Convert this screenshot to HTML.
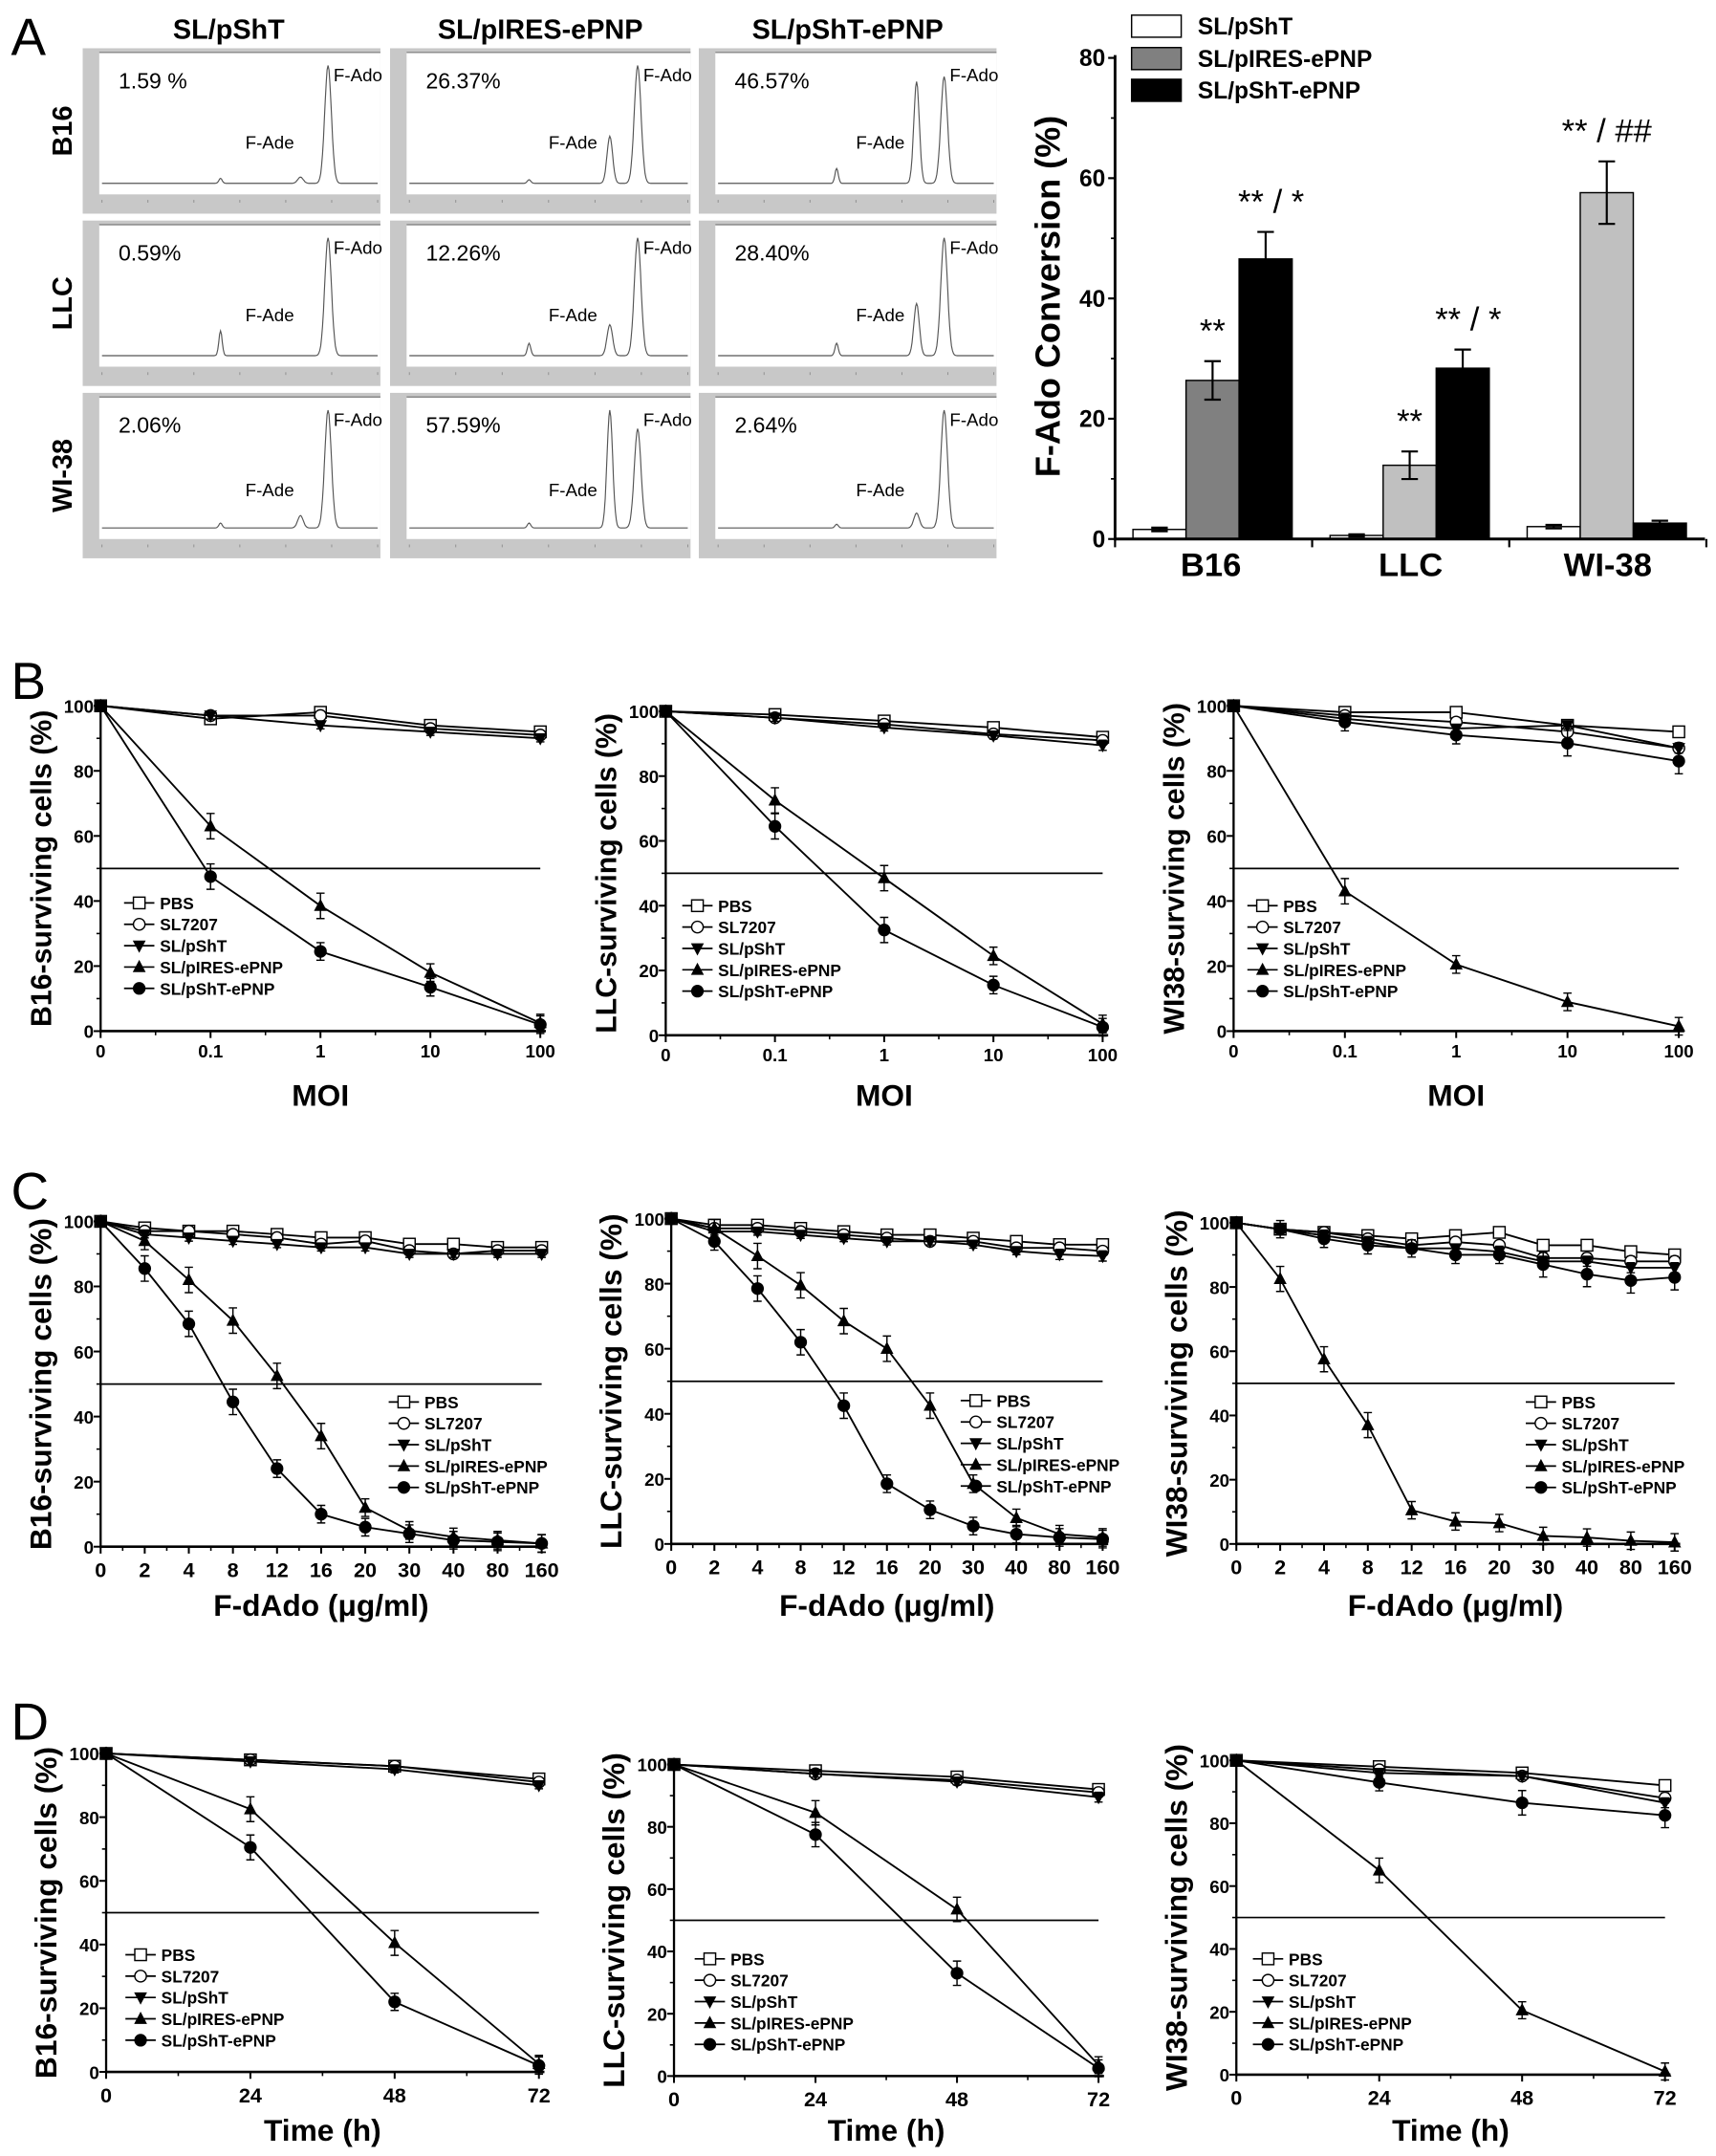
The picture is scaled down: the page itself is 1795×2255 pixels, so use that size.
<!DOCTYPE html>
<html><head><meta charset="utf-8"><style>
html,body{margin:0;padding:0;background:#fff}
svg{display:block;font-family:"Liberation Sans",Arial,sans-serif}
</style></head><body>
<svg id="fig" width="1795" height="2255" viewBox="0 0 1245 1564" preserveAspectRatio="none" xmlns="http://www.w3.org/2000/svg">
<g id="root"></g>
</svg>
<script>
// ---------- Panel A bar data ----------
const barCats = ['B16','LLC','WI-38'];
const barSeries = ['SL/pShT','SL/pIRES-ePNP','SL/pShT-ePNP'];
const barPShT = [1.59, 0.59, 2.06];
const barPIRES = [26.37, 12.26, 57.59];
const barPShTePNP = [46.57, 28.40, 2.64];
const errPShT = [0.3, 0.2, 0.3];
const errPIRES = [3.2, 2.3, 5.2];
const errPShTePNP = [4.5, 3.1, 0.4];
const barYTicks = [0,20,40,60,80];
const barAnnot = [['**','** / *'],['**','** / *'],['** / ##','']];

// ---------- Chromatogram peak data [retention fraction, relative height] ----------
const chromCols = ['SL/pShT','SL/pIRES-ePNP','SL/pShT-ePNP'];
const chromRows = ['B16','LLC','WI-38'];
const chromPct = [['1.59 %','26.37%','46.57%'],['0.59%','12.26%','28.40%'],['2.06%','57.59%','2.64%']];
const chromPeaks = [
 [[[0.43,0.04],[0.72,0.05],[0.82,0.95]], [[0.43,0.03],[0.72,0.38],[0.82,0.95]], [[0.43,0.12],[0.72,0.82],[0.82,0.86]]],
 [[[0.43,0.2],[0.82,0.95]], [[0.43,0.1],[0.72,0.25],[0.82,0.95]], [[0.43,0.1],[0.72,0.42],[0.82,0.95]]],
 [[[0.43,0.04],[0.72,0.1],[0.82,0.95]], [[0.43,0.04],[0.72,0.95],[0.82,0.8]], [[0.43,0.03],[0.72,0.12],[0.82,0.95]]]
];

// ---------- Survival line data ----------
const seriesNames = ['PBS','SL7207','SL/pShT','SL/pIRES-ePNP','SL/pShT-ePNP'];
const yTicks = [0,20,40,60,80,100];
const moiLabels = ['0','0.1','1','10','100'];
const doseLabels = ['0','2','4','8','12','16','20','30','40','80','160'];
const timeValues = [0,24,48,72];
const timeLabels = ['0','24','48','72'];

const B_B16 = [[100,96,98,94,92],[100,97,97,93,91],[100,97,94,92,90],[100,63,38.5,18,2.5],[100,47.5,24.5,13.5,2]];
const B_LLC = [[100,99,97,95,92],[100,98,96,93,91],[100,98,95,92.5,89.5],[100,72.5,48.5,24.5,3.5],[100,64.5,32.5,15.5,2.5]];
const B_WI = [[100,98,98,94,92],[100,97,95,92,87],[100,96,93,94,87],[100,43,20.5,9,1.5],[100,95,91,88.5,83]];

const C_B16 = [[100,98,97,97,96,95,95,93,93,92,92],[100,97,97,96,95,93,94,91,90,91,91],[100,96,95,94,93,92,92,90,90,90,90],[100,94,82,69.5,52.5,34,12,5,3,2,1],[100,85.5,68.5,44.5,24,10,6,4,2,1.5,1]];
const C_LLC = [[100,98,98,97,96,95,95,94,93,92,92],[100,97,97,96,95,94,93,93,91,91,90],[100,96,96,95,94,93,93,92,90,89,88.5],[100,97,88.5,79.5,68.5,60,42.5,18.5,8,3,2],[100,93,78.5,62,42.5,18.5,10.5,5.5,3,2,1.5]];
const C_WI = [[100,98,97,96,95,96,97,93,93,91,90],[100,98,97,95,93,94,93,89,89,88,88],[100,98,96,94,92,92,91,88,88,86,86],[100,82.5,57.5,37,10.5,7,6.5,2.5,2,1,0.5],[100,98,95,93,92,90,90,87,84,82,83]];

const D_B16 = [[100,98,96,92],[100,98,96,91],[100,97.5,95,90],[100,82.5,40.5,2.5],[100,70.5,22,2]];
const D_LLC = [[100,98,96,92],[100,97,95,91],[100,97,94.5,89.5],[100,84.5,53.5,3.5],[100,77.5,33,2.5]];
const D_WI = [[100,98,96,92],[100,97,95,88],[100,96,95,86.5],[100,65,20.5,1],[100,93,86.5,82.5]];

const errSmall = [1.2,1.2,1.2,3,3];

const NS='http://www.w3.org/2000/svg';
const root=document.getElementById('root');
function mk(tag,attrs,parent){const e=document.createElementNS(NS,tag);for(const k in attrs)e.setAttribute(k,attrs[k]);(parent||root).appendChild(e);return e;}
function txt(s,attrs,parent){const e=mk('text',attrs,parent);e.textContent=s;return e;}

// ---- panel letters ----
[['A',8,40],['B',8,507],['C',8,877],['D',8,1262]].forEach(p=>{
  const t=txt(p[0],{x:p[1],y:p[2],'font-size':38,'font-weight':'normal'});
  
  
});

// ---- chromatograms ----
const cX=[60,283,507], cW=[216,218,216], cY=[35,160,285], cH=120;
chromCols.forEach((c,i)=>{
  const t=txt(c,{x:cX[i]+cW[i]/2+(i==0?-2:0),y:28,'font-size':20,'font-weight':'bold','text-anchor':'middle'});
  
  
});
chromRows.forEach((r,j)=>{
  const t=txt(r,{x:0,y:0,'font-size':20,'font-weight':'bold','text-anchor':'middle',transform:`translate(52,${cY[j]+cH/2}) rotate(-90)`});
  
  
});
for(let j=0;j<3;j++)for(let i=0;i<3;i++){
  const g=mk('g',{});
  
  
  const x=cX[i],y=cY[j],w=cW[i];
  mk('rect',{x:x,y:y,width:w,height:cH,fill:'#c8c8c8'},g);
  mk('rect',{x:x+12,y:y+3,width:w-12,height:cH-17,fill:'#fff'},g);
  mk('line',{x1:x+12,y1:y+3,x2:x+w,y2:y+3,stroke:'#888','stroke-width':1},g);
  const px0=x+14,pw=w-16,base=y+cH-22,top=y+8;
  let d='';
  for(let k=0;k<=300;k++){
    const f=k/300;let v=0;
    chromPeaks[j][i].forEach(p=>{const s=p[0]>0.8?0.012:(p[0]>0.6?0.01:0.006);v+=p[1]*Math.exp(-((f-p[0])**2)/(2*s*s));});
    d+=(k?'L':'M')+(px0+f*pw).toFixed(1)+' '+(base-v*(base-top)).toFixed(1);
  }
  mk('path',{d:d,fill:'none',stroke:'#555','stroke-width':0.8},g);
  for(let k=0;k<7;k++) mk('line',{x1:x+14+k*(w-16)/6,y1:y+cH-10,x2:x+14+k*(w-16)/6,y2:y+cH-8,stroke:'#888','stroke-width':0.6},g);
  txt(chromPct[j][i],{x:x+26,y:y+29,'font-size':16},g);
  txt('F-Ado',{x:px0+0.84*pw,y:y+24,'font-size':13},g);
  txt('F-Ade',{x:px0+(i==0?0.52:0.5)*pw,y:y+(j==2?75:73),'font-size':13},g);
}

// ---- Bar chart ----
(function(){
  const ax0=809, ax1=1237, yb=391, yt=42, vmax=80;
  const Y=v=>yb-(v/vmax)*(yb-yt);
  const groupW=143, barW=38.5;
  const gx=i=>ax0+groupW*i+13;
  const g=mk('g',{});
  
  
  const vals=[barPShT,barPIRES,barPShTePNP], errs=[errPShT,errPIRES,errPShTePNP];
  const fills=[['#fff','#808080','#000'],['#fff','#c0c0c0','#000'],['#fff','#c0c0c0','#000']];
  for(let c=0;c<3;c++)for(let s=0;s<3;s++){
    const v=vals[s][c], x=gx(c)+s*barW;
    const r=mk('rect',{x:x,y:Y(v),width:barW,height:yb-Y(v),fill:fills[c][s],stroke:'#000','stroke-width':1},g);
    
    
    const e=errs[s][c], cx=x+barW/2;
    mk('line',{x1:cx,y1:Y(v+e),x2:cx,y2:Y(Math.max(0,v-e)),stroke:'#000','stroke-width':1.5},g);
    mk('line',{x1:cx-6,y1:Y(v+e),x2:cx+6,y2:Y(v+e),stroke:'#000','stroke-width':1.5},g);
    mk('line',{x1:cx-6,y1:Y(Math.max(0,v-e)),x2:cx+6,y2:Y(Math.max(0,v-e)),stroke:'#000','stroke-width':1.5},g);
  }
  [[0,1,barPIRES,errPIRES,0],[0,2,barPShTePNP,errPShTePNP,1],[1,1,barPIRES,errPIRES,0],[1,2,barPShTePNP,errPShTePNP,1],[2,1,barPIRES,errPIRES,0]].forEach(a=>{
    const c=a[0],s=a[1],v=a[2][c]+a[3][c];
    const t=txt(barAnnot[c][a[4]],{x:gx(c)+s*barW+barW/2+(a[4]?4:0),y:Y(v)-14,'font-size':24,'text-anchor':'middle'},g);
    
    
  });
  mk('line',{x1:ax0,y1:yt-2,x2:ax0,y2:yb+1,stroke:'#000','stroke-width':2},g);
  mk('line',{x1:ax0,y1:yb,x2:ax1,y2:yb,stroke:'#000','stroke-width':2},g);
  barYTicks.forEach(v=>{
    mk('line',{x1:ax0-5,y1:Y(v),x2:ax0,y2:Y(v),stroke:'#000','stroke-width':1.5},g);
    txt(String(v),{x:ax0-7,y:Y(v)+6,'font-size':17,'font-weight':'bold','text-anchor':'end'},g);
    if(v<80) mk('line',{x1:ax0-3,y1:Y(v+10),x2:ax0,y2:Y(v+10),stroke:'#000','stroke-width':1.2},g);
  });
  for(let i=0;i<=3;i++) mk('line',{x1:ax0+groupW*i,y1:yb,x2:ax0+groupW*i,y2:yb+6,stroke:'#000','stroke-width':1.5},g);
  barCats.forEach((c,i)=>{
    const t=txt(c,{x:ax0+groupW*i+groupW/2-(i==0?2:0),y:418,'font-size':24,'font-weight':'bold','text-anchor':'middle'},g);
    
    
  });
  const yt2=txt('F-Ado Conversion (%)',{x:0,y:0,'font-size':25,'font-weight':'bold','text-anchor':'middle',transform:'translate(769,215) rotate(-90)'},g);
  
  
  const lf=['#fff','#808080','#000'], ly=[11,34.5,57.5];
  barSeries.forEach((s,i)=>{
    const le=mk('g',{},g);
    
    
    mk('rect',{x:821,y:ly[i],width:36,height:16,fill:lf[i],stroke:'#000','stroke-width':1},le);
    txt(s,{x:869,y:ly[i]+14,'font-size':17,'font-weight':'bold'},le);
  });
})();

// ---- Line charts ----
function marker(g,k,x,y){
  const r=4.2;
  if(k==0) mk('rect',{x:x-r,y:y-r,width:2*r,height:2*r,fill:'#fff',stroke:'#000','stroke-width':1},g);
  else if(k==1) mk('circle',{cx:x,cy:y,r:r,fill:'#fff',stroke:'#000','stroke-width':1},g);
  else if(k==2) mk('path',{d:`M${x-r-0.5} ${y-r+0.5}L${x+r+0.5} ${y-r+0.5}L${x} ${y+r+1}Z`,fill:'#000'},g);
  else if(k==3) mk('path',{d:`M${x-r-0.5} ${y+r-0.5}L${x+r+0.5} ${y+r-0.5}L${x} ${y-r-1}Z`,fill:'#000'},g);
  else mk('circle',{cx:x,cy:y,r:r+0.4,fill:'#000'},g);
}
function lineChart(cfg){
  const g=mk('g',{});
  
  
  const n=cfg.labels.length;
  const X=cfg.xv?(v=>cfg.x0+(v/cfg.xmax)*(cfg.x1-cfg.x0)):(i=>cfg.x0+i*(cfg.x1-cfg.x0)/(n-1));
  const Y=v=>cfg.yb-(v/100)*(cfg.yb-cfg.yt);
  const xs=i=>cfg.xv?X(cfg.xv[i]):X(i);
  mk('line',{x1:cfg.x0,y1:Y(100)-2,x2:cfg.x0,y2:cfg.yb+1,stroke:'#000','stroke-width':1.6},g);
  mk('line',{x1:cfg.x0,y1:cfg.yb,x2:cfg.x1+4,y2:cfg.yb,stroke:'#000','stroke-width':1.8},g);
  yTicks.forEach(v=>{
    mk('line',{x1:cfg.x0-5,y1:Y(v),x2:cfg.x0,y2:Y(v),stroke:'#000','stroke-width':1.4},g);
    if(v<100) mk('line',{x1:cfg.x0-3,y1:Y(v+10),x2:cfg.x0,y2:Y(v+10),stroke:'#000','stroke-width':1.1},g);
    txt(String(v),{x:cfg.x0-5,y:Y(v)+5,'font-size':13,'font-weight':'bold','text-anchor':'end'},g);
  });
  cfg.labels.forEach((l,i)=>{
    const x=xs(i);
    mk('line',{x1:x,y1:cfg.yb,x2:x,y2:cfg.yb+5,stroke:'#000','stroke-width':1.4},g);
    if(i<n-1){const xm=(x+xs(i+1))/2;mk('line',{x1:xm,y1:cfg.yb,x2:xm,y2:cfg.yb+3,stroke:'#000','stroke-width':1.1},g);}
    txt(l,{x:x,y:cfg.yb+(cfg.big?22:19),'font-size':cfg.big?15:13,'font-weight':'bold','text-anchor':'middle'},g);
  });
  mk('line',{x1:cfg.x0,y1:Y(50),x2:cfg.x1,y2:Y(50),stroke:'#000','stroke-width':1.2},g);
  cfg.data.forEach((s,k)=>{
    let d='';s.forEach((v,i)=>{d+=(i?'L':'M')+xs(i).toFixed(1)+' '+Y(v).toFixed(1);});
    const p=mk('path',{d:d,fill:'none',stroke:'#000','stroke-width':1.3},g);
    
    
    s.forEach((v,i)=>{
      if(i>0){const e=errSmall[k]*(v>30&&v<90?1.3:0.9),x=xs(i);
        mk('path',{d:`M${x} ${Y(v+e)}V${Y(v-e)}M${x-3} ${Y(v+e)}H${x+3}M${x-3} ${Y(v-e)}H${x+3}`,stroke:'#000','stroke-width':1,fill:'none'},g);}
      marker(g,k,xs(i),Y(v));
    });
  });
  seriesNames.forEach((s,k)=>{
    const le=mk('g',{},g);
    
    
    const ly=cfg.ly+k*15.5;
    mk('line',{x1:cfg.lx,y1:ly,x2:cfg.lx+22,y2:ly,stroke:'#000','stroke-width':1.2},le);
    marker(le,k,cfg.lx+11,ly);
    txt(s,{x:cfg.lx+26,y:ly+4.5,'font-size':12,'font-weight':'bold'},le);
  });
  const cy=(cfg.yt+cfg.yb)/2;
  const yl=txt(cfg.ylab,{x:0,y:0,'font-size':cfg.big?22:21,'font-weight':'bold','text-anchor':'middle',transform:`translate(${cfg.x0-36},${cy}) rotate(-90)`},g);
  
  
  const xl=txt(cfg.xlab,{x:(cfg.x0+cfg.x1)/2,y:cfg.xly,'font-size':22,'font-weight':'bold','text-anchor':'middle'},g);
  
  
}
const ylabs=['B16-surviving cells (%)','LLC-surviving cells (%)','WI38-surviving cells (%)'];
[[73,392,512,748,B_B16,100,655],[483,800,516,751,B_LLC,505,657],[895,1218,512,748,B_WI,915,657]].forEach((c,i)=>{
  lineChart({name:'moi-chart-'+(i+1),x0:c[0],x1:c[1],yt:c[2],yb:c[3],data:c[4],labels:moiLabels,lx:c[5]-10,ly:c[6],ylab:ylabs[i],xlab:'MOI',xly:802});
});
[[73,393,886,1122,C_B16,290,1017],[487,800,884,1120,C_LLC,705,1016],[897,1215,887,1120,C_WI,1115,1017]].forEach((c,i)=>{
  lineChart({name:'dose-chart-'+(i+1),x0:c[0],x1:c[1],yt:c[2],yb:c[3],data:c[4],labels:doseLabels,lx:c[5]-8,ly:c[6],ylab:ylabs[i],xlab:'F-dAdo (μg/ml)',xly:1172,big:true});
});
[[77,391,1272,1503,D_B16,97,1418],[489,797,1280,1506,D_LLC,510,1421],[897,1208,1277,1505,D_WI,915,1421]].forEach((c,i)=>{
  lineChart({name:'time-chart-'+(i+1),x0:c[0],x1:c[1],yt:c[2],yb:c[3],data:c[4],labels:timeLabels,xv:timeValues,xmax:72,lx:c[5]-6,ly:c[6],ylab:ylabs[i],xlab:'Time (h)',xly:1553,big:true});
});
</script>
</body></html>
